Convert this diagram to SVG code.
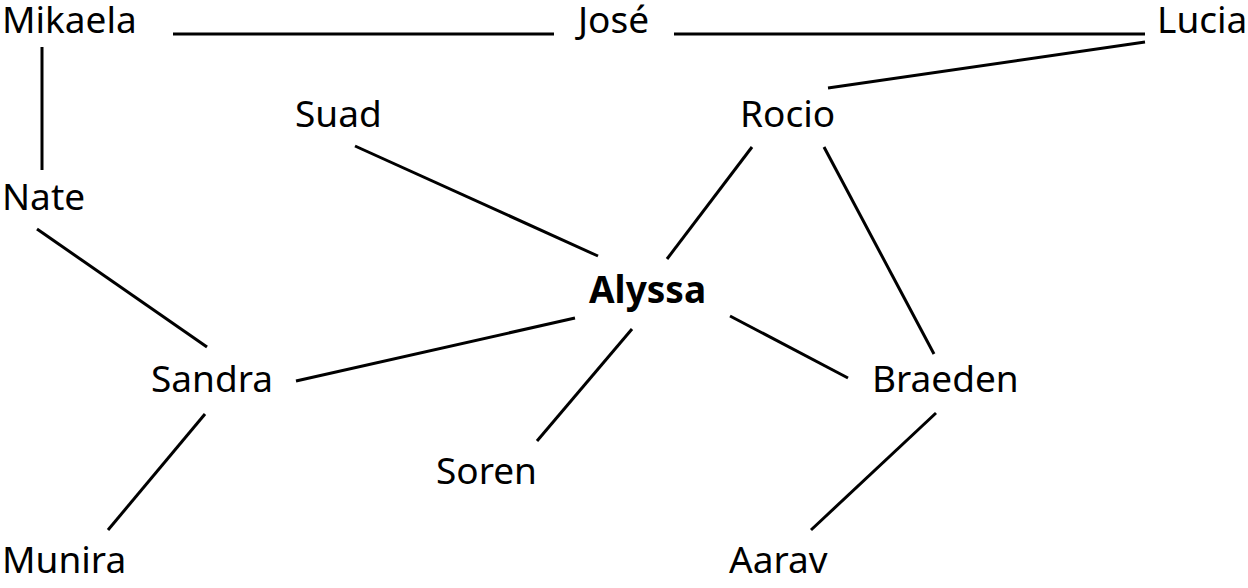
<svg xmlns="http://www.w3.org/2000/svg" width="1248" height="588" viewBox="0 0 1248 588">
<style>
text{font-family:"Noto Sans","Open Sans",sans-serif;font-size:37px;fill:#000}
.b{font-weight:bold}
#edges line{stroke:#000;stroke-width:3}
</style>
<rect width="1248" height="588" fill="#fff"/>
<g id="edges">
<line x1="173" y1="34" x2="554" y2="34"/>
<line x1="674" y1="34" x2="1145" y2="34"/>
<line x1="1145" y1="42" x2="828" y2="88"/>
<line x1="42" y1="47" x2="42" y2="170"/>
<line x1="355" y1="146" x2="598" y2="256"/>
<line x1="752" y1="147" x2="667" y2="259"/>
<line x1="824" y1="147" x2="934" y2="354"/>
<line x1="37" y1="229" x2="207" y2="347"/>
<line x1="575" y1="318" x2="296" y2="381"/>
<line x1="632" y1="329" x2="537" y2="441"/>
<line x1="730" y1="316" x2="848" y2="378"/>
<line x1="205" y1="414" x2="108" y2="530"/>
<line x1="936" y1="413" x2="811" y2="530"/>
</g>
<g id="mikaela"><text x="2" y="33">Mikaela</text></g>
<g id="jose"><text x="578" y="33">José</text></g>
<g id="lucia"><text x="1157" y="33">Lucia</text></g>
<g id="suad"><text x="295" y="127">Suad</text></g>
<g id="rocio"><text x="740" y="127">Rocio</text></g>
<g id="nate"><text x="2" y="210">Nate</text></g>
<g id="alyssa"><text class="b" x="589" y="303">Alyssa</text></g>
<g id="sandra"><text x="151" y="392">Sandra</text></g>
<g id="braeden"><text x="872" y="392">Braeden</text></g>
<g id="soren"><text x="436" y="484">Soren</text></g>
<g id="munira"><text x="2" y="573">Munira</text></g>
<g id="aarav"><text x="729" y="573">Aarav</text></g>
</svg>
